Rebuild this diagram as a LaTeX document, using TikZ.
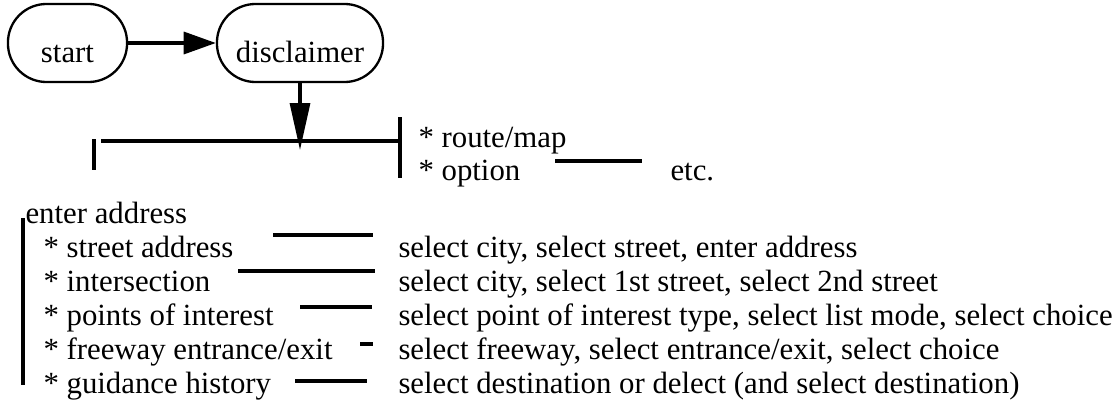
\documentclass[tikz,border=0pt]{standalone}
\usepackage{fontspec}
\setmainfont{Liberation Serif}
\usetikzlibrary{arrows.meta}

\begin{document}
\begin{tikzpicture}[x=3.896pt, y=3.896pt, font=\fontsize{12pt}{14pt}\selectfont,
  stage/.style={draw, line width=0.9pt, rounded corners=15pt, minimum height=30.4pt, inner sep=0pt, text height=1.55em, text depth=0pt},
  item/.style={anchor=base west, inner sep=0pt},
  barline/.style={line width=1.2pt},
  flow/.style={line width=1.2pt, -{Triangle[length=12.5pt, width=8.6pt]}},
  dropflow/.style={line width=1.2pt, -{Triangle[length=18.3pt, width=7.8pt]}}]
  \useasboundingbox (0, 0) rectangle (111.8, 41.1);
  \node [stage, minimum width=46.4pt] at (6.75, 36.8) (start) {start};
  \node [stage, minimum width=64.7pt] at (30.0, 36.8) (disc) {disclaimer};
  \coordinate (tip) at (30.0, 26.1);
  \draw [flow] (start) -- (disc);
  \draw [dropflow] (disc) -- (tip);
  \draw [barline] (10.1, 27.0) -- (40.0, 27.0);
  \draw [barline] (40.0, 29.4) -- (40.0, 23.3);
  \draw [barline] (9.4, 27.2) -- (9.4, 24.1);
  \node [item] at (41.8, 26.4) (route) {* route/map};
  \node [item] at (41.8, 23.1) (option) {* option};
  \node [item] at (67.0, 23.1) (etc) {etc.};
  \draw [barline] (55.5, 25.0) -- (64.2, 25.0);
  \node [item] at (2.5, 18.8) (enter) {enter address};
  \draw [barline] (2.3, 19.3) -- (2.3, 2.6);
  \node [item] at (4.3, 15.4) (street) {* street address};
  \node [item] at (4.3, 12.0) (inter) {* intersection};
  \node [item] at (4.3, 8.6) (poi) {* points of interest};
  \node [item] at (4.3, 5.2) (freeway) {* freeway entrance/exit};
  \node [item] at (4.3, 1.8) (history) {* guidance history};
  \draw [barline] (27.3, 17.6) -- (37.3, 17.6);
  \draw [barline] (23.8, 14.0) -- (37.5, 14.0);
  \draw [barline] (30.0, 10.4) -- (37.2, 10.4);
  \draw [barline] (36.0, 6.7) -- (37.3, 6.7);
  \draw [barline] (29.5, 3.0) -- (36.7, 3.0);
  \node [item] at (39.8, 15.4) (streetsteps) {select city, select street, enter address};
  \node [item] at (39.8, 12.0) (intersteps) {select city, select 1st street, select 2nd street};
  \node [item] at (39.8, 8.6) (poisteps) {select point of interest type, select list mode, select choice};
  \node [item] at (39.8, 5.2) (freewaysteps) {select freeway, select entrance/exit, select choice};
  \node [item] at (39.8, 1.8) (historysteps) {select destination or delect (and select destination)};
\end{tikzpicture}
\end{document}
